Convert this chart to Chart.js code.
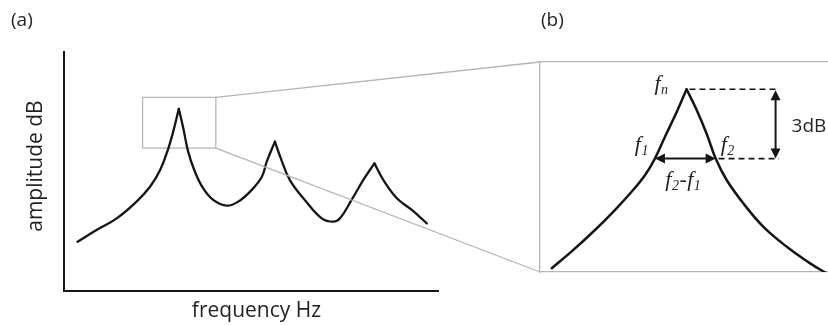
<!DOCTYPE html>
<html>
<head>
<meta charset="utf-8">
<script src="https://cdn.jsdelivr.net/npm/chart.js@4.4.1/dist/chart.umd.min.js"></script>
<style>
  html, body { margin: 0; padding: 0; background: #fff; overflow: hidden; }
  #wrap { position: relative; width: 828px; height: 325px; }
  #wrap canvas { position: absolute; left: 0; top: 0; }
  .tag { position: absolute; font: 19px 'Open Sans', sans-serif; line-height: 19px; color: #231f20; }
</style>
</head>
<body>
<div id="wrap">
  <canvas id="chartA" width="828" height="325"></canvas>
  <canvas id="chartB" width="828" height="325"></canvas>
  <div class="tag" style="left:11px; top:10px">(a)</div>
  <div class="tag" style="left:541px; top:10px">(b)</div>
</div>
<script>
// (a) whole response, arbitrary units 0-100 on both axes
const freqA = [3.6, 8.7, 14.1, 19.4, 23.0, 25.7, 27.9, 29.2, 30.7, 31.9, 33.2, 35.0, 37.2, 39.9, 43.5,
               46.6, 50.2, 52.9, 54.2, 56.4, 57.8, 60.4, 64.4, 68.9, 72.0, 73.8, 76.9, 80.0, 83.0,
               85.4, 89.0, 93.0, 97.0];
const ampA  = [20.6, 25.5, 30.4, 37.4, 43.6, 50.6, 59.7, 66.7, 76.2, 68.1, 58.3, 49.9, 43.0, 38.1, 35.7,
               37.4, 42.3, 47.8, 54.1, 62.5, 56.2, 46.4, 38.1, 30.4, 29.0, 30.4, 38.1, 46.4, 53.4,
               46.4, 38.8, 33.9, 28.3];
// region of (a) that is blown up in (b)
const zoomFreq = [21.0, 40.6];
const zoomAmp  = [59.8, 81.0];

// (b) the first resonance, zoomed, 0-100 on both axes
const freqB = [4.1, 11.0, 19.1, 26.0, 31.8, 36.5, 39.9, 43.4, 47.5, 50.9, 54.4, 57.9, 61.0,
               64.8, 70.6, 77.5, 85.7, 93.8, 100];
const ampB  = [1.8, 9.8, 20.0, 29.5, 38.2, 46.2, 54.0, 64.4, 76.3, 87.0, 77.1, 65.7, 54.0,
               43.8, 32.7, 21.6, 12.0, 4.1, -1.0];
const peakB = [50.9, 87.0];       // fn, peak level
const bandEdges = [39.9, 61.0];   // f1, f2
const halfPower = 54.0;           // 3dB below the peak
const dbMarkerFreq = 81.8;        // where the 3dB arrow sits

const INK = '#151515';
const TEXT = '#231f20';
const GREY = '#b5b5b5';

const pts = (xs, ys) => xs.map((x, i) => ({x: x, y: ys[i]}));

// cut a curve at its peaks so the peaks stay sharp
function branches(xs, ys) {
  const out = [];
  let start = 0;
  for (let i = 1; i < xs.length - 1; i++) {
    if (ys[i] > ys[i - 1] && ys[i] > ys[i + 1]) {
      out.push(pts(xs.slice(start, i + 1), ys.slice(start, i + 1)));
      start = i;
    }
  }
  out.push(pts(xs.slice(start), ys.slice(start)));
  return out;
}

function curveSet(data, width) {
  return {
    data: data, borderColor: INK, borderWidth: width, pointRadius: 0,
    tension: 0.4, borderCapStyle: 'round', borderJoinStyle: 'round', fill: false
  };
}

function flatScale(extra) {
  return Object.assign({
    type: 'linear', min: 0, max: 100,
    ticks: { display: false },
    grid: { display: false, drawTicks: false },
    border: { color: GREY, width: 1.3 }
  }, extra);
}

function arrowHead(ctx, x, y, dx, dy) {
  const len = 10, half = 5;
  ctx.beginPath();
  ctx.moveTo(x, y);
  ctx.lineTo(x - dx * len - dy * half, y - dy * len + dx * half);
  ctx.lineTo(x - dx * len + dy * half, y - dy * len - dx * half);
  ctx.closePath();
  ctx.fill();
}

function doubleArrow(ctx, x1, y1, x2, y2) {
  const d = Math.hypot(x2 - x1, y2 - y1);
  const dx = (x2 - x1) / d, dy = (y2 - y1) / d;
  ctx.beginPath();
  ctx.moveTo(x1 + dx * 6, y1 + dy * 6);
  ctx.lineTo(x2 - dx * 6, y2 - dy * 6);
  ctx.stroke();
  arrowHead(ctx, x2, y2, dx, dy);
  arrowHead(ctx, x1, y1, -dx, -dy);
}

// italic serif label with subscripts, runs like [['f'], ['2', true]]
function mathLabel(ctx, runs, x, y, align) {
  const big = 'italic 22px "Liberation Serif", serif';
  const small = 'italic 14px "Liberation Serif", serif';
  let w = 0;
  runs.forEach(r => { ctx.font = r[1] ? small : big; w += ctx.measureText(r[0]).width + 0.5; });
  let cx = align === 'right' ? x - w : align === 'center' ? x - w / 2 : x;
  ctx.textAlign = 'left';
  ctx.textBaseline = 'alphabetic';
  runs.forEach(r => {
    ctx.font = r[1] ? small : big;
    ctx.fillText(r[0], cx, r[1] ? y + 4 : y);
    cx += ctx.measureText(r[0]).width + 0.5;
  });
}

const notesB = {
  id: 'notesB',
  afterDatasetsDraw(chart) {
    const ctx = chart.ctx;
    const sx = chart.scales.x, sy = chart.scales.y;
    const xf1 = sx.getPixelForValue(bandEdges[0]);
    const xf2 = sx.getPixelForValue(bandEdges[1]);
    const yHalf = sy.getPixelForValue(halfPower);
    const xPk = sx.getPixelForValue(peakB[0]);
    const yPk = sy.getPixelForValue(peakB[1]);
    const xDb = sx.getPixelForValue(dbMarkerFreq);

    ctx.save();
    ctx.strokeStyle = INK;
    ctx.fillStyle = INK;
    ctx.lineWidth = 2;
    doubleArrow(ctx, xf1, yHalf, xf2, yHalf);
    doubleArrow(ctx, xDb, yPk + 1, xDb, yHalf);

    ctx.fillStyle = TEXT;
    mathLabel(ctx, [['f'], ['n', true]], xPk - 18, yPk + 1, 'right');
    mathLabel(ctx, [['f'], ['1', true]], xf1 - 6, yHalf - 8, 'right');
    mathLabel(ctx, [['f'], ['2', true]], xf2 + 5, yHalf - 8, 'left');
    mathLabel(ctx, [['f'], ['2', true], ['-'], ['f'], ['1', true]], (xf1 + xf2) / 2 - 2, yHalf + 27, 'center');

    ctx.font = '19px "Open Sans", sans-serif';
    ctx.textAlign = 'left';
    ctx.textBaseline = 'middle';
    ctx.fillText('3dB', xDb + 16, (yPk + yHalf) / 2 + 3);
    ctx.restore();
  }
};

const chartB = new Chart(document.getElementById('chartB'), {
  type: 'line',
  data: {
    datasets: branches(freqB, ampB).map(d => curveSet(d, 2.5)).concat([
      {
        data: pts([peakB[0] + 1, dbMarkerFreq + 1.2], [peakB[1], peakB[1]]),
        borderColor: INK, borderWidth: 1.6, borderDash: [6, 4], pointRadius: 0
      },
      {
        data: pts([bandEdges[1] + 1, dbMarkerFreq + 1.2], [halfPower, halfPower]),
        borderColor: INK, borderWidth: 1.6, borderDash: [6, 4], pointRadius: 0
      }
    ])
  },
  options: {
    responsive: false,
    animation: false,
    events: [],
    layout: { padding: { left: 540, top: 62, right: 0, bottom: 53 } },
    plugins: { legend: { display: false }, tooltip: { enabled: false } },
    scales: {
      x: flatScale({ position: 'bottom' }),
      xTop: flatScale({ position: 'top', axis: 'x' }),
      y: flatScale({ position: 'left' })
    }
  },
  plugins: [notesB]
});

// grey lines from the zoom box in (a) to the frame of (b)
const zoomLinks = {
  id: 'zoomLinks',
  afterDatasetsDraw(chart) {
    const ctx = chart.ctx;
    const area = chartB.chartArea;
    const bx = chart.scales.x.getPixelForValue(zoomFreq[1]);
    ctx.save();
    ctx.strokeStyle = GREY;
    ctx.lineWidth = 1.3;
    ctx.beginPath();
    ctx.moveTo(bx, chart.scales.y.getPixelForValue(zoomAmp[1]));
    ctx.lineTo(area.left, area.top);
    ctx.moveTo(bx, chart.scales.y.getPixelForValue(zoomAmp[0]));
    ctx.lineTo(area.left, area.bottom);
    ctx.stroke();
    ctx.restore();
  }
};

const axisFont = { family: 'Open Sans', size: 21 };

new Chart(document.getElementById('chartA'), {
  type: 'line',
  data: {
    datasets: branches(freqA, ampA).map(d => curveSet(d, 2.3)).concat([{
      data: pts([zoomFreq[0], zoomFreq[1], zoomFreq[1], zoomFreq[0], zoomFreq[0]],
                [zoomAmp[0], zoomAmp[0], zoomAmp[1], zoomAmp[1], zoomAmp[0]]),
      borderColor: GREY, borderWidth: 1.3, pointRadius: 0, tension: 0
    }])
  },
  options: {
    responsive: false,
    animation: false,
    events: [],
    layout: { padding: { left: 14, top: 52, right: 390, bottom: 0 } },
    plugins: { legend: { display: false }, tooltip: { enabled: false } },
    scales: {
      x: {
        type: 'linear', min: 0, max: 100,
        ticks: { display: false },
        grid: { display: false, drawTicks: false },
        border: { color: INK, width: 2 },
        // leading spaces nudge the title a little right, as in the original
        title: { display: true, text: '  frequency Hz', color: TEXT, font: axisFont, padding: { top: 7.4, bottom: 1.4 } }
      },
      y: {
        type: 'linear', min: 0, max: 100,
        ticks: { display: false },
        grid: { display: false, drawTicks: false },
        border: { color: INK, width: 2 },
        title: { display: true, text: '  amplitude dB', color: TEXT, font: axisFont, padding: { top: 9.4, bottom: 15.4 } }
      }
    }
  },
  plugins: [zoomLinks]
});
</script>
</body>
</html>
